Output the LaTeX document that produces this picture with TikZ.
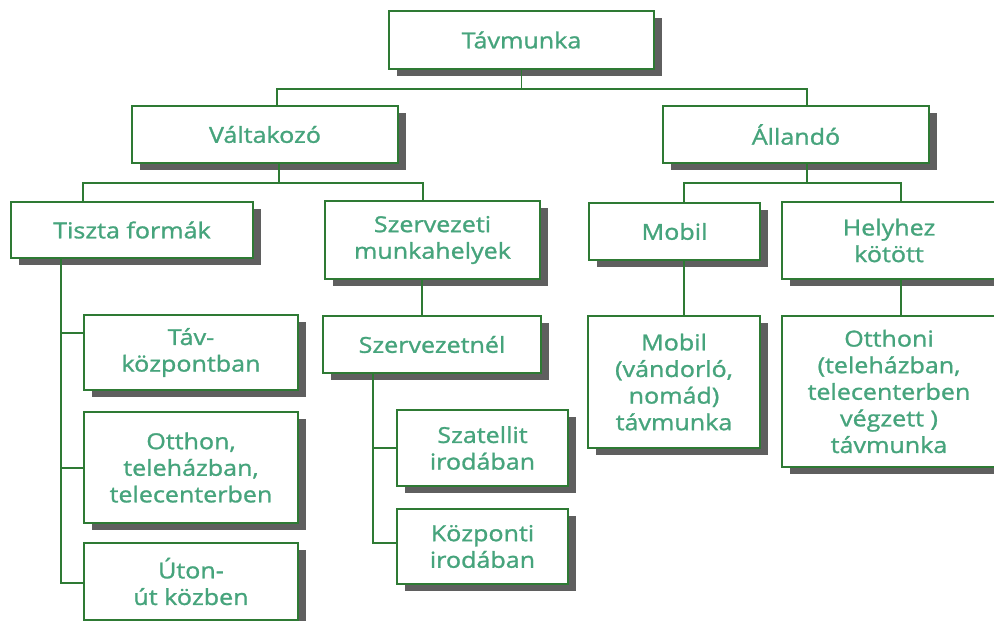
\documentclass[tikz,border=0pt]{standalone}
\usepackage{fontspec}
\setmainfont{Open Sans}[FakeStretch=1.14, FakeBold=1.2]
\usetikzlibrary{shadows}
\definecolor{boxline}{RGB}{46,122,52}
\definecolor{boxtext}{RGB}{70,164,124}
\definecolor{shadowgray}{RGB}{95,95,95}
\tikzset{
  box/.style={draw=boxline, line width=1.5pt, fill=white, align=center,
    text=boxtext, inner sep=0pt,
    font=\fontsize{22}{26.6}\selectfont,
    drop shadow={shadow xshift=8pt, shadow yshift=-7pt, fill=shadowgray, opacity=1}},
  conn/.style={draw=boxline, line width=1.5pt}
}
\begin{document}
\begin{tikzpicture}[x=1pt,y=-1pt]
\useasboundingbox (0,0) rectangle (994,621);
% nodes
\node[box, minimum width=265pt, minimum height=58pt] (tav) at (521.5,40) {Távmunka};
\node[box, minimum width=266pt, minimum height=57pt] (valt) at (265,134.5) {Váltakozó};
\node[box, minimum width=266pt, minimum height=57pt] (all) at (796,134.5) {Állandó};
\node[box, minimum width=242pt, minimum height=56pt] (tiszta) at (132,230) {Tiszta formák};
\node[box, minimum width=215pt, minimum height=78pt] (szerv) at (432.5,240) {Szervezeti\\munkahelyek};
\node[box, minimum width=171pt, minimum height=57pt] (mobil) at (674.5,231.5) {Mobil};
\node[box, minimum width=214pt, minimum height=77pt] (hely) at (889,240.5) {Helyhez\\kötött};
\node[box, minimum width=172pt, minimum height=132pt] (mobil2) at (674,382) {Mobil\\(vándorló,\\nomád)\\távmunka};
\node[box, minimum width=214pt, minimum height=151pt] (otth) at (889,391.5) {Otthoni\\(teleházban,\\telecenterben\\végzett )\\távmunka};
\node[box, minimum width=218pt, minimum height=57pt] (szn) at (432,344.5) {Szervezetnél};
\node[box, minimum width=214pt, minimum height=75pt] (tavk) at (191,352.5) {Táv-\\központban};
\node[box, minimum width=214pt, minimum height=111pt] (otthon) at (191,467.5) {Otthon,\\teleházban,\\telecenterben};
\node[box, minimum width=214pt, minimum height=77pt] (uton) at (191,581.5) {Úton-\\út közben};
\node[box, minimum width=171pt, minimum height=76pt] (szat) at (482.5,448) {Szatellit\\irodában};
\node[box, minimum width=171pt, minimum height=75pt] (kozp) at (482.5,546.5) {Központi\\irodában};
% helper coordinates
\coordinate (yA) at (0,89);
\coordinate (yB) at (0,183);
\coordinate (xv) at (277,0);
\coordinate (xvb) at (279,0);
\coordinate (xa) at (807,0);
\coordinate (xt) at (83,0);
\coordinate (xs) at (423,0);
\coordinate (xm) at (684,0);
\coordinate (xh) at (901,0);
\coordinate (xL) at (61,0);
\coordinate (xS) at (373,0);
\coordinate (xz) at (422,0);
% connectors
\draw[conn] (tav.south) -- (yA -| tav.south);
\draw[conn] (valt.north -| xv) -- (yA -| xv) -- (yA -| xa) -- (all.north -| xa);
\draw[conn] (valt.south -| xvb) -- (yB -| xvb);
\draw[conn] (tiszta.north -| xt) -- (yB -| xt) -- (yB -| xs) -- (szerv.north -| xs);
\draw[conn] (all.south -| xa) -- (yB -| xa);
\draw[conn] (mobil.north -| xm) -- (yB -| xm) -- (yB -| xh) -- (hely.north -| xh);
\draw[conn] (mobil.south -| xm) -- (mobil2.north -| xm);
\draw[conn] (hely.south -| xh) -- (otth.north -| xh);
\draw[conn] (szerv.south -| xz) -- (szn.north -| xz);
\coordinate (bT) at (0,333);
\coordinate (bO) at (0,468);
\coordinate (bU) at (0,583);
\draw[conn] (tiszta.south -| xL) -- (bU -| xL) -- (bU -| uton.west);
\draw[conn] (bT -| xL) -- (bT -| tavk.west);
\draw[conn] (bO -| xL) -- (bO -| otthon.west);
\coordinate (bS) at (0,448);
\coordinate (bK) at (0,543);
\draw[conn] (szn.south -| xS) -- (bK -| xS) -- (bK -| kozp.west);
\draw[conn] (bS -| xS) -- (bS -| szat.west);
\end{tikzpicture}
\end{document}
